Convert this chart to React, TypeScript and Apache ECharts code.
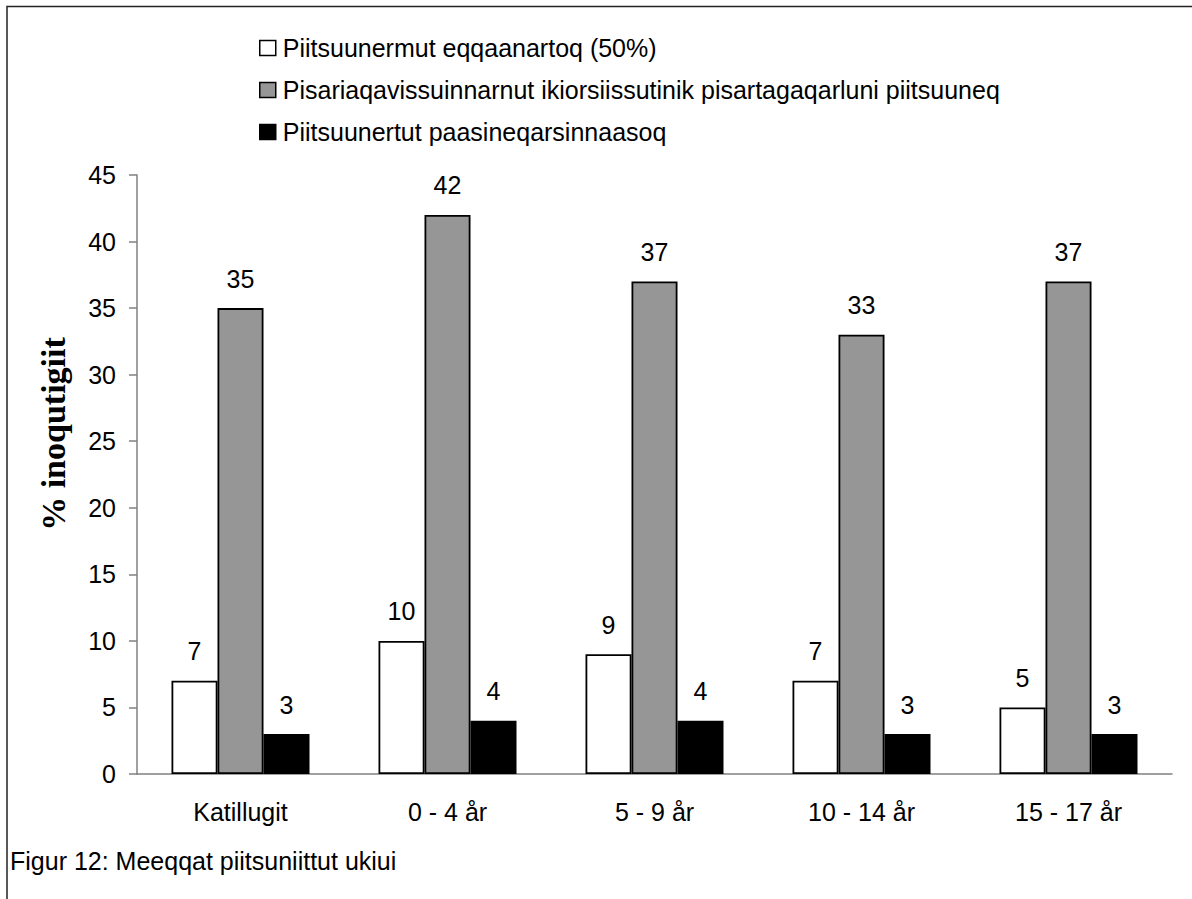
import React, { useEffect, useRef } from "react";
import * as echarts from "echarts";

const categories = ["Katillugit", "0 - 4 år", "5 - 9 år", "10 - 14 år", "15 - 17 år"];
const seriesNames = [
  "Piitsuunermut eqqaanartoq (50%)",
  "Pisariaqavissuinnarnut ikiorsiissutinik pisartagaqarluni piitsuuneq",
  "Piitsuunertut paasineqarsinnaasoq",
];
const values50 = [7, 10, 9, 7, 5];
const valuesBasic = [35, 42, 37, 33, 37];
const valuesPerceived = [3, 4, 4, 3, 3];
const seriesColors = ["#ffffff", "#969696", "#000000"];
const yTitle = "% inoqutigiit";
const caption = "Figur 12: Meeqqat piitsuniittut ukiui";

const FONT = "'Liberation Sans', Arial, sans-serif";

export default function App() {
  const ref = useRef<HTMLDivElement>(null);
  useEffect(() => {
    if (!ref.current) return;
    const chart = echarts.init(ref.current, null, { renderer: "svg" });
    const data = [values50, valuesBasic, valuesPerceived];
    chart.setOption({
      animation: false,
      backgroundColor: "#ffffff",
      textStyle: { fontFamily: FONT },
      grid: { left: 137, right: 20, top: 175, bottom: 125 },
      legend: {
        orient: "vertical",
        left: 254,
        top: 30,
        itemWidth: 16,
        itemHeight: 15,
        itemGap: 16,
        icon: "rect",
        itemStyle: { borderColor: "#000", borderWidth: 1.5 },
        textStyle: { fontSize: 25, color: "#000", fontFamily: FONT, padding: [0, 0, 0, 2], lineHeight: 26 },
        data: seriesNames,
      },
      xAxis: {
        type: "category",
        data: categories,
        axisLine: { lineStyle: { color: "#808080", width: 1.5 } },
        axisTick: { length: 8, lineStyle: { color: "#808080", width: 1.5 } },
        axisLabel: { fontSize: 25, color: "#000", margin: 25, fontFamily: FONT },
      },
      yAxis: {
        type: "value",
        min: 0,
        max: 45,
        interval: 5,
        axisLine: { show: true, lineStyle: { color: "#808080", width: 1.5 } },
        axisTick: { show: true, length: 8, lineStyle: { color: "#808080", width: 1.5 } },
        splitLine: { show: false },
        axisLabel: { fontSize: 25, color: "#000", margin: 21, fontFamily: FONT },
      },
      series: seriesNames.map((name, i) => ({
        name,
        type: "bar",
        data: data[i],
        barWidth: 46,
        barGap: "0%",
        itemStyle: { color: seriesColors[i], borderColor: "#000", borderWidth: 1.8 },
        label: { show: true, position: "top", distance: 17, fontSize: 25, color: "#000", fontFamily: FONT },
      })),
      graphic: [
        {
          type: "rect",
          shape: { x: 7, y: 6.5, width: 1300, height: 1000 },
          style: { fill: "none", stroke: "#222", lineWidth: 1.5 },
          silent: true,
        },
        {
          type: "text",
          x: 53,
          y: 434,
          rotation: Math.PI / 2,
          style: {
            text: yTitle,
            fontSize: 34,
            fontWeight: "bold",
            fill: "#000",
            fontFamily: "'Liberation Serif', 'Times New Roman', serif",
            align: "center",
            verticalAlign: "middle",
          },
        },
        {
          type: "text",
          left: 10,
          top: 848,
          style: { text: caption, fontSize: 25, fill: "#000", fontFamily: FONT },
        },
      ],
    });
    return () => chart.dispose();
  }, []);
  return (
    <div
      ref={ref}
      style={{ position: "absolute", left: 0, top: 0, width: 1192, height: 899 }}
    />
  );
}
